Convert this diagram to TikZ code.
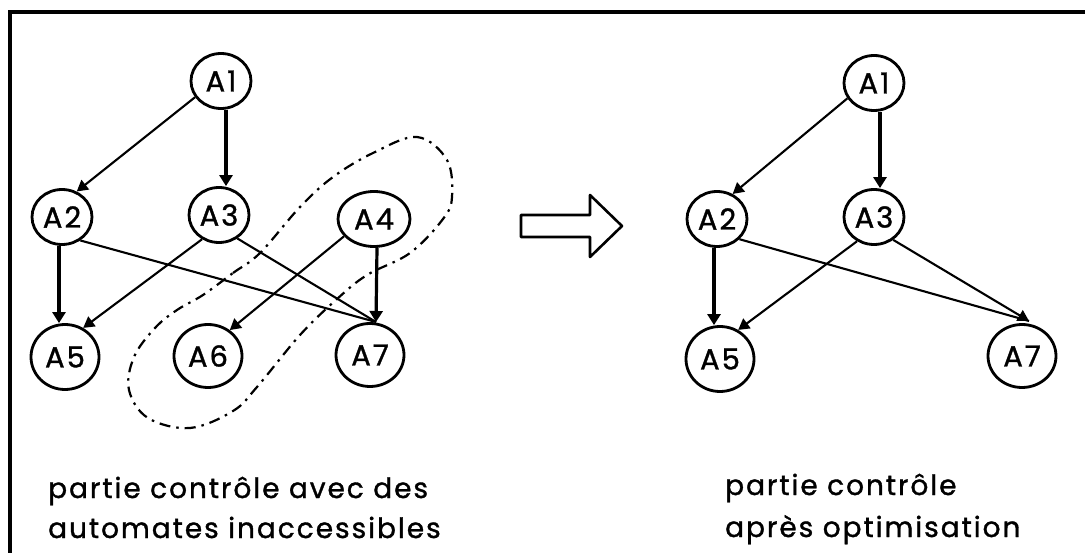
\documentclass[tikz,border=0pt]{standalone}
\usepackage{fontspec}
\setmainfont{Poppins}[LetterSpace=7, FakeBold=1.2]
\usetikzlibrary{shapes.geometric,arrows.meta}
\tikzset{
  aut/.style={draw, ellipse, line width=2.8pt, inner sep=0pt, minimum width=60pt, minimum height=55pt, font=\fontsize{29}{32}\selectfont},
  autbig/.style={aut, minimum width=68pt, minimum height=65pt},
  thinarr/.style={line width=2.1pt, -{Triangle[length=11pt,width=12pt]}},
  thickarr/.style={line width=3.2pt, -{Triangle[length=11pt,width=13pt]}},
  plainline/.style={line width=2.1pt},
  captext/.style={anchor=base west, inner sep=0pt, font=\fontsize{28}{32}\selectfont},
  region/.style={line width=2.2pt, dash pattern=on 11pt off 6pt on 2.5pt off 6pt}
}
\begin{document}
\begin{tikzpicture}[x=1pt,y=-1pt]
\useasboundingbox (0,0) rectangle (1085,553);
% frame
\draw[line width=3.4pt] (1085,12) -- (10,12) -- (10,553);
% left graph
\node[aut] (L1) at (221,81) {A1};
\node[aut] (L2) at (62,217) {A2};
\node[aut] (L3) at (219,215) {A3};
\node[aut, minimum width=72pt] (L4) at (374,219) {A4};
\node[autbig] (L5) at (65,357) {A5};
\node[autbig, minimum height=63pt] (L6) at (208,356) {A6};
\node[autbig, minimum height=63pt] (L7) at (370,355) {A7};
\coordinate (L7t) at (376,322);
\draw[thinarr] (L1.-148) -- (L2.60);
\draw[thickarr] ([xshift=5pt]L1.south) -- ([xshift=7pt]L3.north);
\draw[thickarr] ([xshift=-3pt]L2.south) -- ([xshift=-6pt]L5.north);
\draw[thinarr] (L3.-125) -- (L5.58);
\draw[plainline] (L2.-52) -- (L7t);
\draw[plainline] (L3.-52) -- (L7t);
\draw[thinarr] (L4.-150) -- (L6.50);
\draw[thickarr] ([xshift=3pt]L4.south) -- (L7t);
% region
\draw[region] plot[smooth cycle, tension=0.6] coordinates {
 (203,295) (233,273) (260,253) (300,207) (333,177) (373,153) (417,137)
 (447,160) (452,197) (443,219) (410,253) (367,275) (337,299) (300,335)
 (257,387) (233,411) (190,428) (148,418) (129,390) (134,357) (155,328) (177,310)};
% hollow arrow
\draw[line width=2.6pt, line join=round] (521,215) -- (590,215) -- (590,195) -- (622,226) -- (590,257) -- (590,237) -- (521,237) -- cycle;
% right graph
\node[aut] (R1) at (874,83) {A1};
\node[aut] (R2) at (717,219) {A2};
\node[aut] (R3) at (874,217) {A3};
\node[autbig] (R5) at (720,359) {A5};
\node[autbig, minimum height=63pt] (R7) at (1022,356) {A7};
\coordinate (R7t) at (1029,321);
\draw[thinarr] (R1.-150) -- (R2.58);
\draw[thickarr] ([xshift=6pt]R1.south) -- ([xshift=6pt]R3.north);
\draw[thickarr] ([xshift=-3pt]R2.south) -- ([xshift=-6pt]R5.north);
\draw[thinarr] (R3.-125) -- (R5.58);
\draw[plainline] (R2.-42) -- (R7t);
\draw[thinarr] (R3.-50) -- (R7t);
% captions
\node[captext] (c1) at (48,498) {partie contrôle avec des};
\node[captext] (c2) at (48,538) {automates inaccessibles};
\node[captext] (c3) at (725,495) {partie contrôle};
\node[captext] (c4) at (725,537) {après optimisation};
\end{tikzpicture}
\end{document}
